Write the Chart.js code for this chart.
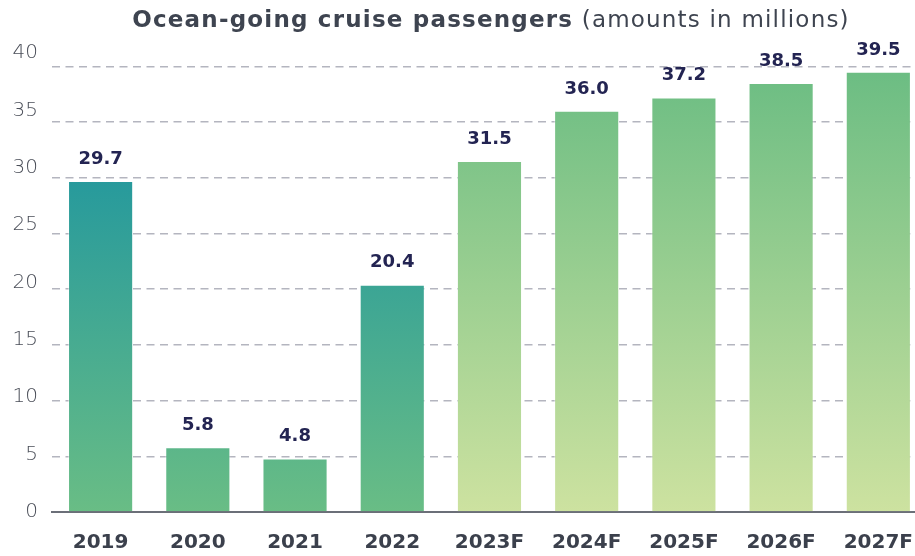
<!DOCTYPE html>
<html>
<head>
<meta charset="utf-8">
<title>Ocean-going cruise passengers</title>
<script src="https://cdn.jsdelivr.net/npm/chart.js@4/dist/chart.umd.min.js"></script>
<style>
  html, body { margin: 0; padding: 0; background: #fff; overflow: hidden; }
  #wrap { width: 915px; height: 556px; overflow: hidden; }
  canvas { display: block; }
</style>
</head>
<body>
<div id="wrap">
  <canvas id="cruiseChart" width="932" height="556"></canvas>
</div>
<script>
// data (millions of passengers)
const years = ["2019", "2020", "2021", "2022", "2023F", "2024F", "2025F", "2026F", "2027F"];
const passengers = [29.7, 5.8, 4.8, 20.4, 31.5, 36.0, 37.2, 38.5, 39.5];
const firstForecast = 4;
const yTicks = [0, 5, 10, 15, 20, 25, 30, 35, 40];

const titleBold = "Ocean-going cruise passengers";
const titleRest = " (amounts in millions)";

// vertical gradient tied to the y scale, so shorter bars get the lower colours
function barFill(ctx) {
  const chart = ctx.chart;
  const { chartArea, scales } = chart;
  if (!chartArea) return "#69bd85";
  const y = scales.y;
  const bottom = y.getPixelForValue(0);
  let g;
  if (ctx.dataIndex < firstForecast) {
    g = chart.ctx.createLinearGradient(0, y.getPixelForValue(29.7), 0, bottom);
    g.addColorStop(0, "#279a9c");
    g.addColorStop(1, "#69bd85");
  } else {
    g = chart.ctx.createLinearGradient(0, y.getPixelForValue(39.5), 0, bottom);
    g.addColorStop(0, "#6cbd83");
    g.addColorStop(1, "#cde2a0");
  }
  return g;
}

const titlePlugin = {
  id: "mixedTitle",
  afterDraw(chart) {
    const c = chart.ctx;
    c.save();
    c.textBaseline = "alphabetic";
    c.fillStyle = "#3e4450";
    if ("letterSpacing" in c) c.letterSpacing = "1.2px";
    const boldFont = "bold 23px 'DejaVu Sans'";
    const normFont = "23px 'DejaVu Sans'";
    c.font = boldFont;
    const w1 = c.measureText(titleBold).width;
    c.font = normFont;
    const w2 = c.measureText(titleRest).width;
    const cx = 491;
    const x0 = cx - (w1 + w2) / 2;
    c.textAlign = "left";
    c.font = boldFont;
    c.fillText(titleBold, x0, 27);
    c.font = normFont;
    c.fillText(titleRest, x0 + w1, 27);
    c.restore();
  }
};

const valueLabels = {
  id: "valueLabels",
  afterDatasetsDraw(chart) {
    const c = chart.ctx;
    const meta = chart.getDatasetMeta(0);
    c.save();
    c.font = "bold 18px 'DejaVu Sans'";
    c.fillStyle = "#232452";
    c.textAlign = "center";
    c.textBaseline = "middle";
    meta.data.forEach((bar, i) => {
      c.fillText(passengers[i].toFixed(1), bar.x, bar.y - 22);
    });
    c.restore();
  }
};

const ctx = document.getElementById("cruiseChart").getContext("2d");
const cruiseChart = new Chart(ctx, {
  type: "bar",
  data: {
    labels: years,
    datasets: [
      {
        label: "Passengers",
        data: passengers,
        backgroundColor: barFill,
        borderColor: "rgba(255, 255, 255, 0.45)",
        borderWidth: 1,
        borderSkipped: "bottom",
        barPercentage: 0.67,
        categoryPercentage: 1.0,
      },
    ],
  },
  options: {
    responsive: false,
    animation: false,
    devicePixelRatio: 1,
    layout: { padding: { top: 44, right: 0, bottom: 1, left: 0 } },
    plugins: {
      legend: { display: false },
      title: { display: false },
      tooltip: { enabled: false },
    },
    scales: {
      x: {
        afterFit: (scale) => { scale.height = 43; },
        grid: { display: false, drawTicks: false },
        border: { display: true, color: "#6b6f78", width: 2 },
        ticks: {
          color: "#3b404c",
          font: { family: "'DejaVu Sans'", size: 20, weight: "bold" },
          padding: 19,
          maxRotation: 0,
        },
      },
      // grid lines only
      y: {
        position: "left",
        min: 0,
        max: 42,
        afterBuildTicks: (scale) => { scale.ticks = yTicks.map((v) => ({ value: v })); },
        afterFit: (scale) => { scale.width = 0; },
        grid: {
          drawTicks: false,
          color: (c) => (c.tick && c.tick.value === 0 ? "rgba(0,0,0,0)" : "#b4b5bf"),
          lineWidth: 1.5,
        },
        border: { display: false, dash: [8, 5.5] },
        ticks: { display: false },
      },
      // tick labels only (they sit slightly off the grid lines in the original)
      y2: {
        position: "left",
        min: 0,
        max: 40.78,
        afterBuildTicks: (scale) => { scale.ticks = yTicks.map((v) => ({ value: v })); },
        afterFit: (scale) => { scale.width = 52; },
        grid: { display: false, drawTicks: false },
        border: { display: false },
        ticks: {
          color: "#4a4e58",
          font: { family: "'DejaVu Sans'", size: 20, weight: "200" },
          padding: 14,
        },
      },
    },
  },
  plugins: [titlePlugin, valueLabels],
});
</script>
</body>
</html>
